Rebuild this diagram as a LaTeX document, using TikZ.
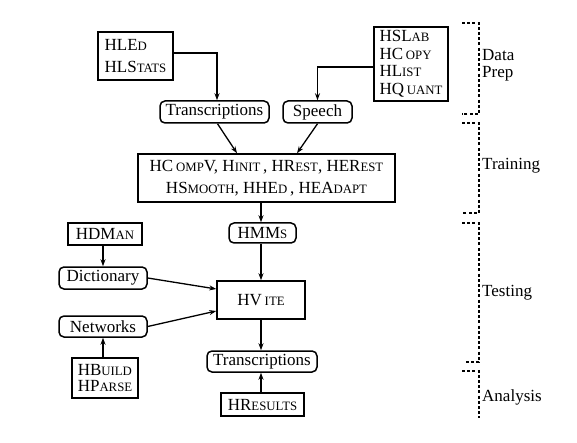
\documentclass[tikz,border=0pt]{standalone}
\usepackage{fontspec}
\setmainfont{Liberation Serif}
\usetikzlibrary{arrows.meta}
\newcommand{\smc}[1]{{\fontsize{12.8}{15}\selectfont #1}}
\begin{document}
\begin{tikzpicture}[x=1pt,y=-1pt,
  every node/.style={font=\rmfamily\fontsize{17}{20}\selectfont, inner sep=0pt},
  sqbox/.style={draw, line width=1.5pt, rectangle},
  rbox/.style={draw, line width=1.5pt, rectangle, rounded corners=5pt},
  arr/.style={line width=1.3pt, -{Stealth[length=7pt,width=5pt]}},
  brk/.style={line width=1.3pt, dash pattern=on 3pt off 2.2pt},
  lbl/.style={anchor=west, align=left}]
\useasboundingbox (0,0) rectangle (577,443);
% boxes
\node[sqbox, minimum width=75pt, minimum height=48pt, align=left, font=\rmfamily\fontsize{17}{22}\selectfont] (hled) at (135.5,56) {HLE\smc{D}\\HLS\smc{TATS}};
\node[sqbox, minimum width=74pt, minimum height=74pt, align=left, font=\rmfamily\fontsize{17}{17.5}\selectfont] (hslab) at (411,64) {HSL\smc{AB}\\HC\,\smc{OPY}\\HL\smc{IST}\\HQ\,\smc{UANT}};
\node[rbox, minimum width=109pt, minimum height=22pt] (trans1) at (214.5,112) {Transcriptions};
\node[rbox, minimum width=69pt, minimum height=22pt] (speech) at (317.5,112) {Speech};
\node[sqbox, minimum width=257pt, minimum height=48pt, align=center, font=\rmfamily\fontsize{17}{22}\selectfont] (train) at (266.5,178) {HC\,\smc{OMP}V, H\smc{INIT}\,, HR\smc{EST}, HER\smc{EST}\\HS\smc{MOOTH}, HHE\smc{D}\,, HEA\smc{DAPT}};
\node[rbox, minimum width=67pt, minimum height=20pt] (hmms) at (262.5,233) {HMM\smc{S}};
\node[sqbox, minimum width=74pt, minimum height=22pt] (hdman) at (105,234) {HDM\smc{AN}};
\node[rbox, minimum width=88pt, minimum height=22pt] (dict) at (103,278) {Dictionary};
\node[rbox, minimum width=88pt, minimum height=21pt] (netw) at (103,326.5) {Networks};
\node[sqbox, minimum width=66pt, minimum height=40pt, align=left, font=\rmfamily\fontsize{17}{16.5}\selectfont] (hbuild) at (105,378) {HB\smc{UILD}\\HP\smc{ARSE}};
\node[sqbox, minimum width=88pt, minimum height=38pt] (hvite) at (261,300) {HV\,\smc{ITE}};
\node[rbox, minimum width=110pt, minimum height=21pt] (trans2) at (262,361.5) {Transcriptions};
\node[sqbox, minimum width=83pt, minimum height=23pt] (hresults) at (262.5,404.5) {HR\smc{ESULTS}};
% arrows
\draw[arr] ([yshift=3pt]hled.east) -| ([xshift=2.5pt]trans1.north);
\draw[arr] ([yshift=-3pt]hslab.west) -| (speech.north);
\draw[arr] ([xshift=3pt]trans1.south) -- ([xshift=-29.5pt]train.north);
\draw[arr] (speech.south) -- ([xshift=30.5pt]train.north);
\draw[arr] ([xshift=-5.5pt]train.south) -- ([xshift=-1.5pt]hmms.north);
\draw[arr] ([xshift=-1.5pt]hmms.south) -- (hvite.north);
\draw[arr] ([xshift=-2pt]hdman.south) -- (dict.north);
\draw[arr] (dict.east) -- ([yshift=11pt]hvite.west);
\draw[arr] (netw.east) -- ([yshift=-11pt]hvite.west);
\draw[arr] ([xshift=-2pt]hbuild.north) -- (netw.south);
\draw[arr] (hvite.south) -- ([xshift=-1pt]trans2.north);
\draw[arr] ([xshift=-1.5pt]hresults.north) -- ([xshift=-1pt]trans2.south);
% brackets
\draw[brk] (462,23) -- (479,23) -- (479,114) -- (462,114);
\draw[brk] (462,123) -- (479,123) -- (479,213) -- (462,213);
\draw[brk] (462,223) -- (479,223) -- (479,362) -- (465,362);
\draw[brk] (462,371) -- (479,371) -- (479,418);
\node[lbl, font=\rmfamily\fontsize{17}{17}\selectfont] (ldp) at (482,65) {Data\\Prep};
\node[lbl] (ltr) at (482,166) {Training};
\node[lbl] (lte) at (482,293) {Testing};
\node[lbl] (lan) at (482,397) {Analysis};
\end{tikzpicture}
\end{document}
